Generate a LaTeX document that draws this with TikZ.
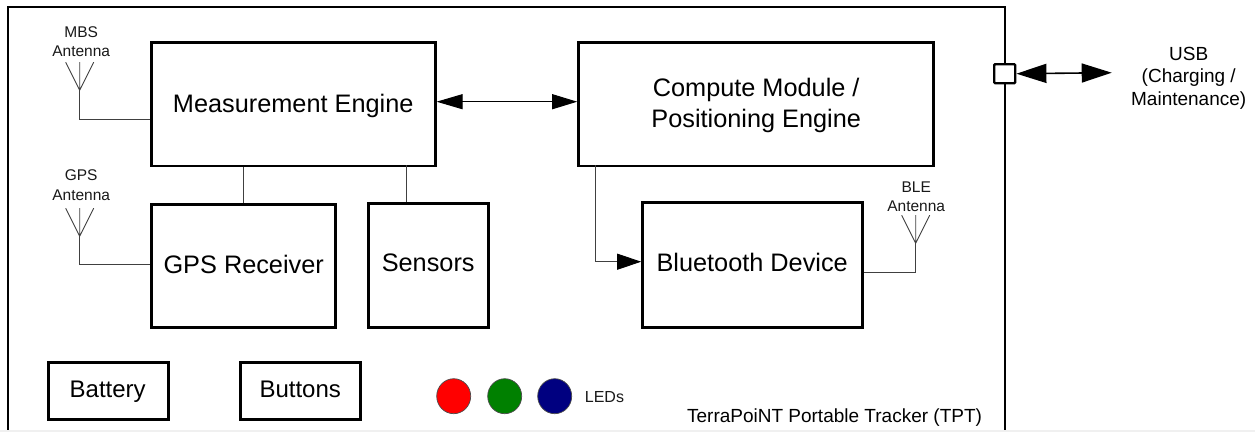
\documentclass[tikz,border=0pt]{standalone}
\usepackage{fontspec}
\setmainfont{Liberation Sans}
\usetikzlibrary{arrows.meta,positioning,calc,shapes.geometric}
\tikzset{
  x=1pt,y=-1pt,
  blk/.style={draw=black,line width=2.4pt,fill=white,inner sep=0pt,anchor=north west},
  blktxt/.style={inner sep=0pt,anchor=base,font=\fontsize{25.3}{31}\selectfont},
  smalltxt/.style={inner sep=0pt,anchor=base,font=\fontsize{24}{28}\selectfont},
  wire/.style={draw=black!75,line width=1pt},
  tip/.style={-{Triangle[length=24pt,width=16pt,color=black]}},
  usbtip/.style={{Triangle[length=30pt,width=19pt]}-{Triangle[length=30pt,width=19pt]}},
  midtip/.style={{Triangle[length=26pt,width=15pt]}-{Triangle[length=25pt,width=15pt]}},
  ant/.style={draw=black!75,line width=0.9pt},
  lab/.style={inner sep=0pt,align=center,font=\fontsize{15.5}{19.5}\selectfont,text=black!90},
  led/.style={ellipse,draw=black!70,line width=0.7pt,minimum width=34pt,minimum height=35pt,inner sep=0pt}
}
\begin{document}
\begin{tikzpicture}
\useasboundingbox (0.8,0.8) rectangle (1255.8,432.8);
\fill[white] (0.8,0.8) rectangle (1255.8,432.8);
\fill[black!6] (0.8,430.3) rectangle (1255.8,432.8);
% enclosure
\draw[line width=2.4pt] (8.8,430.3) -- (8.8,7.5) -- (1005.8,7.5) -- (1005.8,430.3);
% blocks
\node[blk,minimum width=284pt,minimum height=123.5pt] (me) at (151,42) {};
\node[blktxt] (metxt) at (294,113) {Measurement Engine};
\node[blk,minimum width=355pt,minimum height=123.5pt] (cm) at (578,42) {};
\node[blktxt] (cmtxt1) at (757,97) {Compute Module /};
\node[blktxt] (cmtxt2) at (757,128) {Positioning Engine};
\node[blk,minimum width=184pt,minimum height=123pt] (gps) at (151,204) {};
\node[blktxt] (gpstxt) at (244.5,274) {GPS Receiver};
\node[blk,minimum width=120pt,minimum height=124pt] (sen) at (368,203) {};
\node[blktxt] (sentxt) at (429,272) {Sensors};
\node[blk,minimum width=220pt,minimum height=125pt] (bt) at (642,202) {};
\node[blktxt] (bttxt) at (753,272) {Bluetooth Device};
\node[blk,minimum width=120pt,minimum height=57pt] (bat) at (48,362) {};
\node[smalltxt] (battxt) at (108.5,398.5) {Battery};
\node[blk,minimum width=120pt,minimum height=57pt] (but) at (240,362) {};
\node[smalltxt] (buttxt) at (301,398.5) {Buttons};
% LEDs
\node[led,fill=red] (l1) at (454.5,397) {};
\node[led,fill={rgb,255:red,0;green,128;blue,0}] (l2) at (505.5,397) {};
\node[led,fill={rgb,255:red,0;green,0;blue,128}] (l3) at (555.5,397) {};
\node[lab,anchor=west,font=\fontsize{16}{19}\selectfont] (ledl) at (585.5,398) {LEDs};
% USB
\node[draw=black,line width=2.4pt,fill=white,minimum width=21pt,minimum height=19pt,inner sep=0pt,rounded corners=1pt] (usb) at (1005.5,74.5) {};
\coordinate (usbend) at (1112.5,73.5);
\draw[usbtip,line width=1.6pt] (usb.east) -- (usbend);
\node[font=\fontsize{19}{22.5}\selectfont,inner sep=0pt,align=center] (usbl) at (1189.5,79) {USB\\(Charging /\\Maintenance)};
% labels
\node[lab] (mbsl) at (82,42.5) {MBS\\Antenna};
\node[lab] (gpsl) at (82,186) {GPS\\Antenna};
\node[lab] (blel) at (917,197.5) {BLE\\Antenna};
\node[font=\fontsize{19}{22}\selectfont,inner sep=0pt,anchor=base east] (tpt) at (983,423) {TerraPoiNT Portable Tracker (TPT)};
% antennas
\coordinate (a1) at (80.5,91); \coordinate (a2) at (80.5,237); \coordinate (a3) at (916.5,244);
\foreach \a in {a1,a2,a3}{
  \draw[ant] (\a) -- ++(-14,-28) (\a) -- ++(0,-28) (\a) -- ++(14,-28);
}
% connectors
\draw[wire] (a1) |- (me.west |- 0,120.5);
\draw[wire] (a2) |- (gps.west |- 0,265.5);
\draw[wire] (a3) |- (bt.east |- 0,273.5);
\draw[wire] (me.south -| gps.north) -- (gps.north);
\draw[wire] (407.5,166) -- (407.5,203);
\draw[midtip,line width=1pt] (me.east |- 0,102.5) -- (cm.west |- 0,102.5);
\draw[wire,tip] (596.5,166) |- (bt.west |- 0,262.5);
\end{tikzpicture}
\end{document}
